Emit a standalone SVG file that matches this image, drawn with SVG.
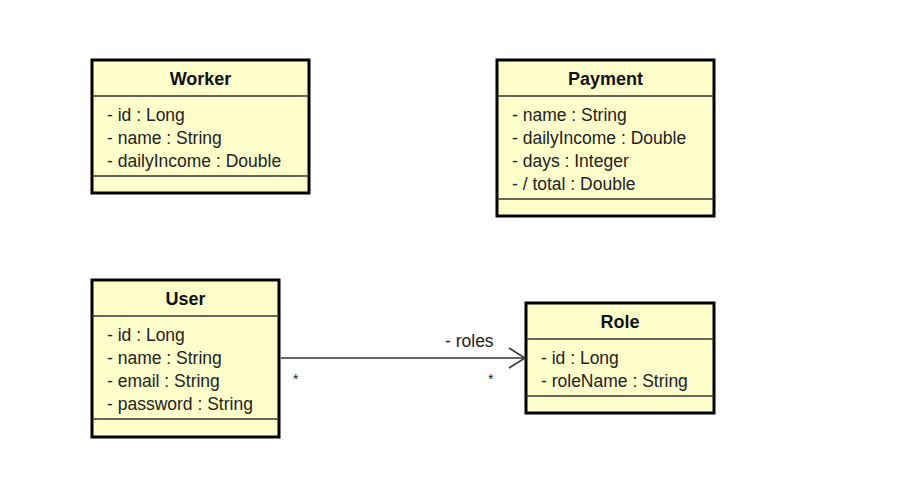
<svg xmlns="http://www.w3.org/2000/svg" width="908" height="491" viewBox="0 0 908 491">
<style>
.box{fill:#FFFFCC;stroke:#000;stroke-width:3}
.sep{stroke:#333;stroke-width:1.5}
.t{font-family:"Liberation Sans",Arial,sans-serif;font-size:18px;font-weight:bold;fill:#111;text-anchor:middle}
.a{font-family:"Liberation Sans",Arial,sans-serif;font-size:17.5px;fill:#222}
.edge{stroke:#333;stroke-width:1.5;fill:none}
</style>
<rect width="908" height="491" fill="#fff"/>
<g id="Worker">
<rect class="box" x="92" y="60" width="217" height="133"/>
<line class="sep" x1="92" y1="96" x2="309" y2="96"/>
<line class="sep" x1="92" y1="176" x2="309" y2="176"/>
<text class="t" x="200.5" y="85">Worker</text>
<text class="a" x="107" y="121">- id : Long</text>
<text class="a" x="107" y="144">- name : String</text>
<text class="a" x="107" y="167">- dailyIncome : Double</text>
</g>
<g id="Payment">
<rect class="box" x="497" y="60" width="217" height="156"/>
<line class="sep" x1="497" y1="96" x2="714" y2="96"/>
<line class="sep" x1="497" y1="199" x2="714" y2="199"/>
<text class="t" x="605.5" y="85">Payment</text>
<text class="a" x="512" y="121">- name : String</text>
<text class="a" x="512" y="144">- dailyIncome : Double</text>
<text class="a" x="512" y="167">- days : Integer</text>
<text class="a" x="512" y="190">- / total : Double</text>
</g>
<g id="User">
<rect class="box" x="92" y="280" width="187" height="157"/>
<line class="sep" x1="92" y1="316" x2="279" y2="316"/>
<line class="sep" x1="92" y1="419" x2="279" y2="419"/>
<text class="t" x="185.5" y="305">User</text>
<text class="a" x="107" y="341">- id : Long</text>
<text class="a" x="107" y="364">- name : String</text>
<text class="a" x="107" y="387">- email : String</text>
<text class="a" x="107" y="410">- password : String</text>
</g>
<g id="Role">
<rect class="box" x="526" y="303" width="188" height="110"/>
<line class="sep" x1="526" y1="339" x2="714" y2="339"/>
<line class="sep" x1="526" y1="396" x2="714" y2="396"/>
<text class="t" x="620" y="328">Role</text>
<text class="a" x="541" y="364">- id : Long</text>
<text class="a" x="541" y="387">- roleName : String</text>
</g>
<g id="connectors">
<line class="edge" x1="281" y1="358" x2="525" y2="358"/>
<polyline class="edge" points="509,348 525,358 509,368"/>
<text class="a" x="445" y="347">- roles</text>
<text class="a" x="293" y="384" style="font-size:14px">*</text>
<text class="a" x="488" y="384" style="font-size:14px">*</text>
</g>
</svg>
